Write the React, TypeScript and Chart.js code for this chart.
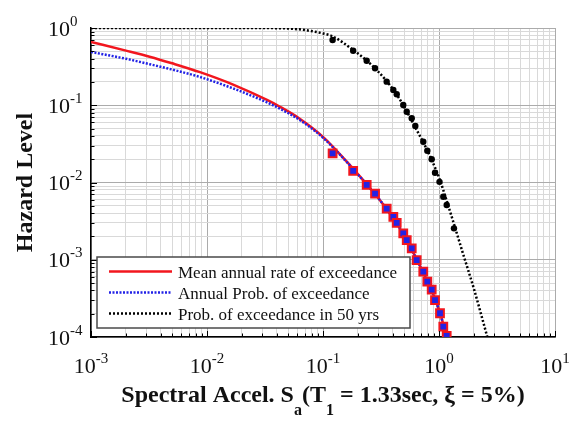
import React, { useEffect, useRef } from 'react';
import { Chart, registerables } from 'chart.js';

Chart.register(...registerables);

const FONT = '"Liberation Serif", "Times New Roman", Times, serif';

// ---- axis decades / tick data ----
const xDecadeExps = [-3, -2, -1, 0, 1];
const yDecadeExps = [-4, -3, -2, -1, 0];
const minorMultipliers = [1, 2, 3, 4, 5, 6, 7, 8, 9];
const tickBase = '10';

// ---- curves ----
const saCurve = [0.001, 0.002, 0.0032, 0.005, 0.0087, 0.0168, 0.0329, 0.0426, 0.063, 0.1, 0.161, 0.221, 0.31, 0.40, 0.48, 0.645, 0.79, 0.89, 1.02, 1.17];
const meanAnnualRate = [0.66, 0.51, 0.425, 0.349, 0.268, 0.185, 0.117, 0.0955, 0.067, 0.039, 0.0185, 0.0108, 0.0059, 0.0035, 0.0023, 0.001, 0.00053, 0.00036, 0.000204, 0.0001];
const annualProb = [0.49, 0.40, 0.34, 0.29, 0.232, 0.165, 0.109, 0.09, 0.0645, 0.038, 0.0183, 0.0107, 0.0059, 0.0035, 0.0023, 0.001, 0.00053, 0.00036, 0.000204, 0.0001];

const sa50 = [0.001, 0.01, 0.03, 0.05, 0.07, 0.1, 0.121, 0.182, 0.238, 0.281, 0.354, 0.432, 0.527, 0.642, 0.793, 0.924, 1.02, 1.165, 1.346, 1.6, 2.0, 2.61];
const prob50 = [1.0, 1.0, 0.998, 0.985, 0.94, 0.85, 0.78, 0.52, 0.38, 0.30, 0.205, 0.138, 0.083, 0.048, 0.026, 0.0156, 0.0107, 0.0058, 0.0029, 0.00124, 0.00042, 0.0001];

// ---- markers ----
const markerSa = [0.121, 0.182, 0.238, 0.281, 0.354, 0.404, 0.432, 0.492, 0.527, 0.582, 0.642, 0.732, 0.793, 0.865, 0.924, 1.02, 1.089, 1.165];
const markerRate = [0.0239, 0.0141, 0.0093, 0.0072, 0.0046, 0.0036, 0.003, 0.0022, 0.0018, 0.0014, 0.00099, 0.0007, 0.00052, 0.00041, 0.0003, 0.000203, 0.000136, 0.000103];
const markerSa50 = [0.121, 0.182, 0.238, 0.281, 0.354, 0.404, 0.432, 0.492, 0.527, 0.582, 0.625, 0.732, 0.793, 0.865, 0.924, 1.01, 1.089, 1.165, 1.346];
const markerProb50 = [0.70, 0.508, 0.377, 0.301, 0.202, 0.158, 0.139, 0.1007, 0.0825, 0.0678, 0.0539, 0.0337, 0.0258, 0.020, 0.0134, 0.0102, 0.00655, 0.00511, 0.00255];

const legendLabels = ['Mean annual rate of exceedance', 'Annual Prob. of exceedance', 'Prob. of exceedance in 50 yrs'];
const xTitleParts = [
  { text: 'Spectral Accel. S', sub: false },
  { text: 'a', sub: true },
  { text: '(T', sub: false },
  { text: '1', sub: true },
  { text: ' = 1.33sec, \u03be = 5%)', sub: false },
];
const yTitle = 'Hazard Level';

const RED = '#f2161e';
const BLUE = '#2222e6';

function buildTicks(exps: number[]) {
  const out: number[] = [];
  exps.forEach((e, i) => {
    if (i === exps.length - 1) {
      out.push(Math.pow(10, e));
    } else {
      minorMultipliers.forEach((m) => out.push(m * Math.pow(10, e)));
    }
  });
  return out;
}
const xTicks = buildTicks(xDecadeExps);
const yTicks = buildTicks(yDecadeExps);

function isMajor(v: number) {
  const l = Math.log10(v);
  return Math.abs(l - Math.round(l)) < 1e-6;
}

const decorPlugin = {
  id: 'decor',
  afterDraw(chart: any) {
    const { ctx, chartArea: a, scales } = chart;
    const xs = scales.x;
    const ys = scales.y;
    ctx.save();

    // inward tick marks on bottom/left axes
    ctx.strokeStyle = '#000';
    ctx.lineWidth = 1;
    ctx.beginPath();
    xTicks.forEach((v) => {
      const px = Math.round(xs.getPixelForValue(v)) + 0.5;
      const len = isMajor(v) ? 6 : 3.5;
      ctx.moveTo(px, a.bottom);
      ctx.lineTo(px, a.bottom - len);
    });
    yTicks.forEach((v) => {
      const py = Math.round(ys.getPixelForValue(v)) + 0.5;
      const len = isMajor(v) ? 6 : 3.5;
      ctx.moveTo(a.left, py);
      ctx.lineTo(a.left + len, py);
    });
    ctx.stroke();

    // legend
    const bx = a.left + 6;
    const by = a.bottom - 80;
    const bw = 313;
    const bh = 71;
    ctx.fillStyle = '#fff';
    ctx.fillRect(bx, by, bw, bh);
    ctx.strokeStyle = '#4a4a4a';
    ctx.lineWidth = 1.5;
    ctx.strokeRect(bx, by, bw, bh);
    const lineDs = chart.data.datasets.filter((d: any) => d.showLine !== false);
    lineDs.forEach((d: any, i: number) => {
      const ry = by + 14.5 + i * 21;
      ctx.save();
      ctx.strokeStyle = d.borderColor;
      ctx.lineWidth = d.borderWidth;
      ctx.setLineDash(d.borderDash || []);
      ctx.beginPath();
      ctx.moveTo(bx + 12, ry);
      ctx.lineTo(bx + 75, ry);
      ctx.stroke();
      ctx.restore();
      ctx.fillStyle = '#111';
      ctx.font = `17px ${FONT}`;
      ctx.textAlign = 'left';
      ctx.textBaseline = 'alphabetic';
      ctx.fillText(d.label, bx + 81, ry + 6);
    });

    // tick labels with superscript exponents
    ctx.fillStyle = '#111';
    ctx.textBaseline = 'alphabetic';
    ctx.textAlign = 'left';
    const bigFont = `22px ${FONT}`;
    const expFont = `15px ${FONT}`;
    xDecadeExps.forEach((e) => {
      const px = xs.getPixelForValue(Math.pow(10, e));
      const expText = String(e);
      ctx.font = bigFont;
      const w1 = ctx.measureText(tickBase).width;
      ctx.font = expFont;
      const w2 = ctx.measureText(expText).width;
      const start = px - (w1 + w2) / 2;
      const base = a.bottom + 36;
      ctx.font = bigFont;
      ctx.fillText(tickBase, start, base);
      ctx.font = expFont;
      ctx.fillText(expText, start + w1, base - 10);
    });
    yDecadeExps.forEach((e) => {
      const py = ys.getPixelForValue(Math.pow(10, e));
      const expText = String(e);
      ctx.font = bigFont;
      const w1 = ctx.measureText(tickBase).width;
      const start = a.left - 43;
      const base = py + 7.5;
      ctx.fillText(tickBase, start, base);
      ctx.font = expFont;
      ctx.fillText(expText, start + w1, base - 10);
    });

    // x title
    const mainF = `bold 24px ${FONT}`;
    const subF = `bold 16px ${FONT}`;
    let total = 0;
    const widths = xTitleParts.map((p) => {
      ctx.font = p.sub ? subF : mainF;
      const w = ctx.measureText(p.text).width;
      total += w;
      return w;
    });
    let cx = (a.left + a.right) / 2 - total / 2;
    const tb = a.bottom + 64.5;
    xTitleParts.forEach((p, i) => {
      ctx.font = p.sub ? subF : mainF;
      ctx.fillText(p.text, cx, p.sub ? tb + 13 : tb);
      cx += widths[i];
    });

    // y title
    ctx.save();
    ctx.translate(31.5, (a.top + a.bottom) / 2);
    ctx.rotate(-Math.PI / 2);
    ctx.font = `bold 24px ${FONT}`;
    ctx.textAlign = 'center';
    ctx.fillText(yTitle, 0, 0);
    ctx.restore();

    ctx.restore();
  },
};

function gridColor(ctx: any) {
  const v = ctx.tick ? ctx.tick.value : 1;
  return isMajor(v) ? '#ababab' : '#d9d9d9';
}

export default function App() {
  const ref = useRef<HTMLCanvasElement | null>(null);

  useEffect(() => {
    if (!ref.current) return;
    const chart = new Chart(ref.current, {
      type: 'line',
      data: {
        datasets: [
          {
            label: legendLabels[0],
            data: saCurve.map((x, i) => ({ x, y: meanAnnualRate[i] })),
            borderColor: RED,
            borderWidth: 2.5,
            pointRadius: 0,
            cubicInterpolationMode: 'monotone',
            order: 3,
          },
          {
            label: legendLabels[1],
            data: saCurve.map((x, i) => ({ x, y: annualProb[i] })),
            borderColor: BLUE,
            borderWidth: 2.5,
            borderDash: [2, 1.5],
            pointRadius: 0,
            cubicInterpolationMode: 'monotone',
            order: 2,
          },
          {
            label: legendLabels[2],
            data: sa50.map((x, i) => ({ x, y: prob50[i] })),
            borderColor: '#000',
            borderWidth: 2.5,
            borderDash: [2, 2],
            pointRadius: 0,
            cubicInterpolationMode: 'monotone',
            order: 1,
          },
          {
            label: 'rate markers',
            data: markerSa.map((x, i) => ({ x, y: markerRate[i] })),
            showLine: false,
            pointStyle: 'rect',
            pointRadius: 5.5,
            backgroundColor: BLUE,
            borderColor: RED,
            borderWidth: 2,
            order: 0,
          },
          {
            label: '50yr markers',
            data: markerSa50.map((x, i) => ({ x, y: markerProb50[i] })),
            showLine: false,
            pointStyle: 'circle',
            pointRadius: 3.2,
            backgroundColor: '#000',
            borderColor: '#000',
            borderWidth: 0,
            order: 0,
          },
        ],
      },
      options: {
        responsive: false,
        animation: false,
        layout: { padding: { left: 91, right: 17, top: 28, bottom: 86 } },
        plugins: { legend: { display: false }, tooltip: { enabled: false } },
        scales: {
          x: {
            type: 'logarithmic',
            min: 0.001,
            max: 10,
            afterBuildTicks: (s: any) => {
              s.ticks = xTicks.map((value) => ({ value }));
            },
            ticks: { display: false },
            grid: { color: gridColor, lineWidth: 1, drawTicks: false },
            border: { display: true, color: '#000', width: 1.5 },
          },
          y: {
            type: 'logarithmic',
            min: 0.0001,
            max: 1,
            afterBuildTicks: (s: any) => {
              s.ticks = yTicks.map((value) => ({ value }));
            },
            ticks: { display: false },
            grid: { color: gridColor, lineWidth: 1, drawTicks: false },
            border: { display: true, color: '#000', width: 1.5 },
          },
        },
      },
      plugins: [decorPlugin],
    } as any);
    return () => chart.destroy();
  }, []);

  return (
    <div style={{ position: 'fixed', left: 0, top: 0, width: 572, height: 423, background: '#fff' }}>
      <canvas ref={ref} width={572} height={423} style={{ display: 'block' }} />
    </div>
  );
}
